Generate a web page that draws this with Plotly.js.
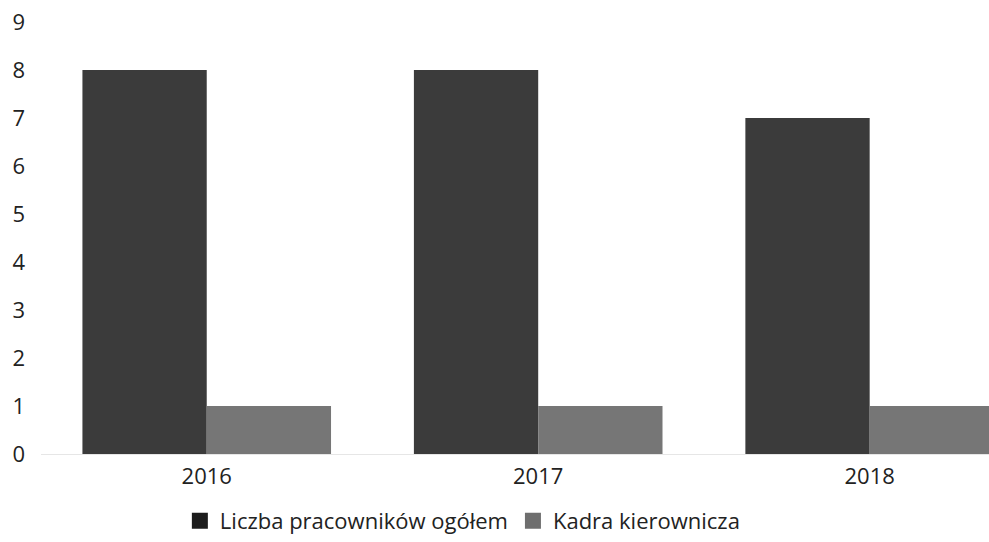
<!DOCTYPE html>
<html>
<head>
<meta charset="utf-8">
<script src="https://cdn.plot.ly/plotly-3.0.1.min.js"></script>
<style>html,body{margin:0;padding:0;background:#fff;}#chart{width:989px;height:542px;}</style>
</head>
<body>
<div id="chart"></div>
<script>
var years = ['2016', '2017', '2018'];
var seriesNames = ['Liczba pracowników ogółem', 'Kadra kierownicza'];
var totalEmployees = [8, 8, 7];
var management = [1, 1, 1];
var yTicks = [0, 1, 2, 3, 4, 5, 6, 7, 8, 9];
var barColors = ['#3b3b3b', '#767676'];
var legendColors = ['#1c1c1c', '#6e6e6e'];

var font = {family: '"Open Sans", "Noto Sans", sans-serif', size: 22, color: '#222'};

var traces = [
  {type: 'bar', name: seriesNames[0], x: years, y: totalEmployees, showlegend: false,
   marker: {color: barColors[0], line: {width: 0}}},
  {type: 'bar', name: seriesNames[1], x: years, y: management, showlegend: false,
   marker: {color: barColors[1], line: {width: 0}}},
  // legend entries only (no data), to get larger square swatches
  {type: 'scatter', mode: 'markers', name: seriesNames[0], x: [null], y: [null],
   marker: {symbol: 'square', size: 21, color: legendColors[0]}},
  {type: 'scatter', mode: 'markers', name: seriesNames[1], x: [null], y: [null],
   marker: {symbol: 'square', size: 21, color: legendColors[1]}}
];

var layout = {
  width: 989, height: 542,
  margin: {l: 41, r: 0, t: 22, b: 86},
  paper_bgcolor: '#fff', plot_bgcolor: '#fff',
  font: font,
  barmode: 'group', bargap: 0.25, bargroupgap: 0,
  showlegend: true,
  legend: {orientation: 'h', x: 0.445, xanchor: 'center', y: -0.155, yanchor: 'middle',
           font: font, itemwidth: 30, tracegroupgap: 0},
  xaxis: {type: 'category', range: [-0.5, 2.36], showgrid: false, zeroline: false,
          showline: true, linecolor: '#e6e6e6', linewidth: 1,
          ticks: '', tickfont: font, ticklabelstandoff: 3},
  yaxis: {range: [0, 9], tickvals: yTicks, showgrid: false, zeroline: false,
          showline: false, ticks: '', tickfont: font, ticklabelstandoff: 15}
};

Plotly.newPlot('chart', traces, layout, {displayModeBar: false, staticPlot: true});
</script>
</body>
</html>
